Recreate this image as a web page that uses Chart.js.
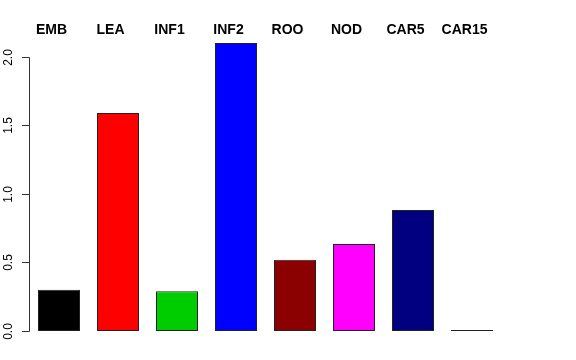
<!DOCTYPE html>
<html>
<head>
<meta charset="utf-8">
<script src="https://cdn.jsdelivr.net/npm/chart.js@4/dist/chart.umd.min.js"></script>
<style>
html,body{margin:0;padding:0;background:#fff;}
#wrap{width:576px;height:360px;position:relative;}
</style>
</head>
<body>
<div id="wrap"><canvas id="c" width="576" height="360"></canvas></div>
<script>
const categories = ['EMB','LEA','INF1','INF2','ROO','NOD','CAR5','CAR15'];
const values = [0.30, 1.59, 0.29, 2.10, 0.52, 0.635, 0.883, 0.007];
const barColors = ['#000000','#FF0000','#00CD00','#0000FF','#8B0000','#FF00FF','#000080','#808080'];
const yTickValues = [0, 0.5, 1.0, 1.5, 2.0];
const yTickLabels = ['0.0','0.5','1.0','1.5','2.0'];

const rAxisPlugin = {
  id: 'rAxis',
  afterDraw(chart) {
    const ctx = chart.ctx;
    const ys = chart.scales.y;
    const left = chart.chartArea.left;
    ctx.save();
    ctx.strokeStyle = '#333';
    ctx.lineWidth = 1;
    ctx.beginPath();
    ctx.moveTo(Math.floor(left) + 0.5, Math.round(ys.getPixelForValue(0)) + 0.5);
    ctx.lineTo(Math.floor(left) + 0.5, Math.round(ys.getPixelForValue(yTickValues[yTickValues.length-1])) + 0.5);
    ctx.stroke();
    ctx.fillStyle = '#000';
    ctx.font = '12px "Liberation Sans", Arial, sans-serif';
    ctx.textAlign = 'center';
    ctx.textBaseline = 'middle';
    yTickValues.forEach((v, i) => {
      const py = Math.round(ys.getPixelForValue(v)) + 0.5;
      ctx.beginPath();
      ctx.moveTo(Math.floor(left) - 7, py);
      ctx.lineTo(Math.floor(left) + 0.5, py);
      ctx.stroke();
      ctx.save();
      ctx.translate(8.5, py);
      ctx.rotate(-Math.PI / 2);
      ctx.fillText(yTickLabels[i], 0, 0);
      ctx.restore();
    });
    // top category labels
    ctx.font = 'bold 14px "Liberation Sans", Arial, sans-serif';
    ctx.textBaseline = 'alphabetic';
    const meta = chart.getDatasetMeta(0);
    meta.data.forEach((bar, i) => {
      ctx.fillText(categories[i], bar.x - 7.5, 34);
    });
    ctx.restore();
  }
};

new Chart(document.getElementById('c'), {
  type: 'bar',
  data: {
    labels: categories,
    datasets: [{
      data: values,
      backgroundColor: barColors,
      borderColor: '#222',
      borderWidth: 1,
      borderSkipped: false,
      categoryPercentage: 1.0,
      barPercentage: 0.712
    }]
  },
  options: {
    responsive: false,
    animation: false,
    devicePixelRatio: 1,
    layout: { padding: { top: 43, bottom: 29, left: 0, right: 74.5 } },
    plugins: { legend: { display: false }, tooltip: { enabled: false } },
    scales: {
      x: { display: false },
      y: {
        min: 0, max: 2.1,
        ticks: { display: false },
        grid: { display: false },
        border: { display: false },
        afterFit(scale) { scale.width = 29.5; }
      }
    }
  },
  plugins: [rAxisPlugin]
});
</script>
</body>
</html>
